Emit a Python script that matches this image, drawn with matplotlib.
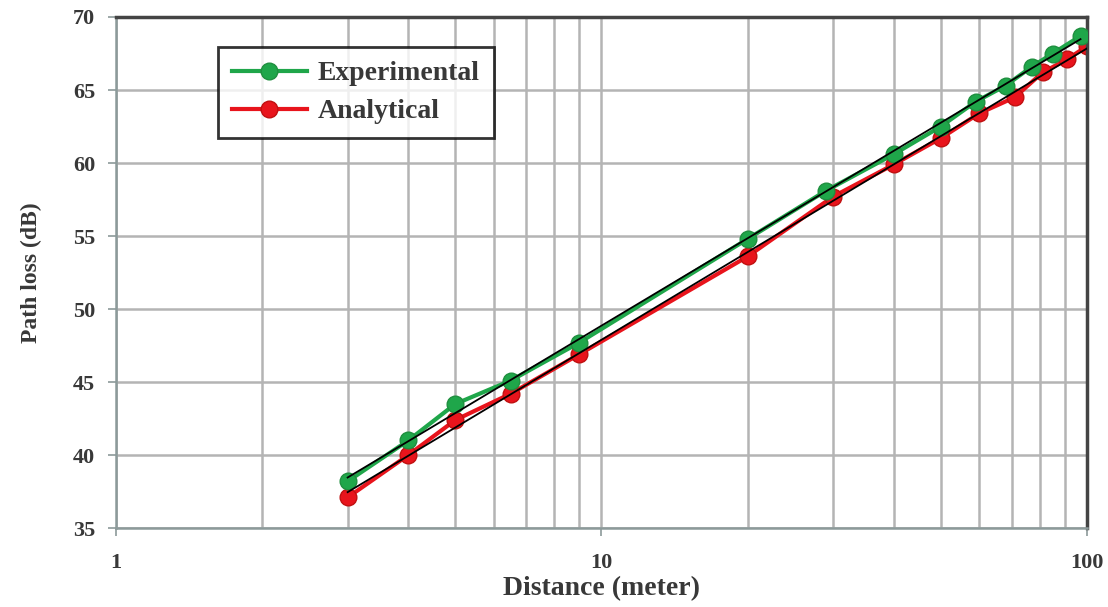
import numpy as np
import matplotlib
matplotlib.use('Agg')
import matplotlib.pyplot as plt
from matplotlib.ticker import FixedLocator, NullFormatter

# distance (m) and path loss (dB)
exp_dist = [3, 4, 5, 6.5, 9, 20, 29, 40, 50, 59, 68, 77, 85, 97]
exp_loss = [38.2, 41.0, 43.5, 45.1, 47.7, 54.8, 58.1, 60.6, 62.5, 64.2, 65.3, 66.6, 67.5, 68.7]
ana_dist = [3, 4, 5, 6.5, 9, 20, 30, 40, 50, 60, 71, 81, 91, 100]
ana_loss = [37.1, 40.0, 42.4, 44.2, 46.9, 53.6, 57.7, 59.9, 61.7, 63.4, 64.5, 66.2, 67.1, 68.0]

x_ticks = [1, 10, 100]
y_ticks = [35, 40, 45, 50, 55, 60, 65, 70]

plt.rcParams['font.family'] = ['Liberation Serif', 'DejaVu Serif']

fig = plt.figure(figsize=(11.08, 6.07), dpi=100)
ax = fig.add_axes([0.1047, 0.130, 0.8763, 0.842])

ax.set_xscale('log')
ax.set_xlim(1, 100)
ax.set_ylim(35, 70)

ax.xaxis.set_major_locator(FixedLocator(x_ticks))
ax.xaxis.set_minor_locator(FixedLocator([m * d for d in (1, 10) for m in range(2, 10)]))
ax.xaxis.set_minor_formatter(NullFormatter())
ax.set_xticklabels([str(t) for t in x_ticks])
ax.set_yticks(y_ticks)

ax.grid(True, which='major', color='#b4b4b4', linewidth=1.8)
ax.grid(True, which='minor', axis='x', color='#b4b4b4', linewidth=1.8)
ax.set_axisbelow(True)

ax.plot(exp_dist, exp_loss, color='#1fa64a', linewidth=3, marker='o',
        markersize=12, markeredgecolor='#1f8f3f', markeredgewidth=1, label='Experimental', zorder=3)
ax.plot(ana_dist, ana_loss, color='#e8141c', linewidth=3, marker='o',
        markersize=12, markeredgecolor='#c01010', markeredgewidth=1, label='Analytical', zorder=2)

# logarithmic trend lines
for d, l in ((exp_dist, exp_loss), (ana_dist, ana_loss)):
    k, b = np.polyfit(np.log10(d), l, 1)
    xs = np.array([d[0], d[-1]])
    ax.plot(xs, k * np.log10(xs) + b, color='black', linewidth=1.3, zorder=4)

for side in ('left', 'bottom'):
    ax.spines[side].set_color('#8c9a9a')
    ax.spines[side].set_linewidth(1.8)
for side in ('top', 'right'):
    ax.spines[side].set_color('#444444')
    ax.spines[side].set_linewidth(2.5)

ax.tick_params(axis='both', which='major', direction='out', length=6, width=1.2,
               color='#8c9a9a', labelsize=16, labelcolor='#383838')
ax.tick_params(axis='y', which='major', pad=9)
ax.tick_params(axis='x', which='major', pad=12)
ax.tick_params(axis='x', which='minor', length=0)
for lbl in ax.get_xticklabels() + ax.get_yticklabels():
    lbl.set_fontweight('bold')

ax.set_xlabel('Distance (meter)', fontsize=20, fontweight='bold', color='#383838', labelpad=2)
ax.set_ylabel('Path loss (dB)', fontsize=17, fontweight='bold', color='#383838', labelpad=22)

leg = ax.legend(loc='upper left', bbox_to_anchor=(0.105, 0.941), borderaxespad=0,
                prop={'size': 20, 'weight': 'bold'}, frameon=True, fancybox=False,
                edgecolor='black', handlelength=2.7, borderpad=0.5, labelspacing=0.45,
                handletextpad=0.4)
leg.get_frame().set_linewidth(2)
for t in leg.get_texts():
    t.set_color('#383838')

fig.savefig('out.png', dpi=100)
